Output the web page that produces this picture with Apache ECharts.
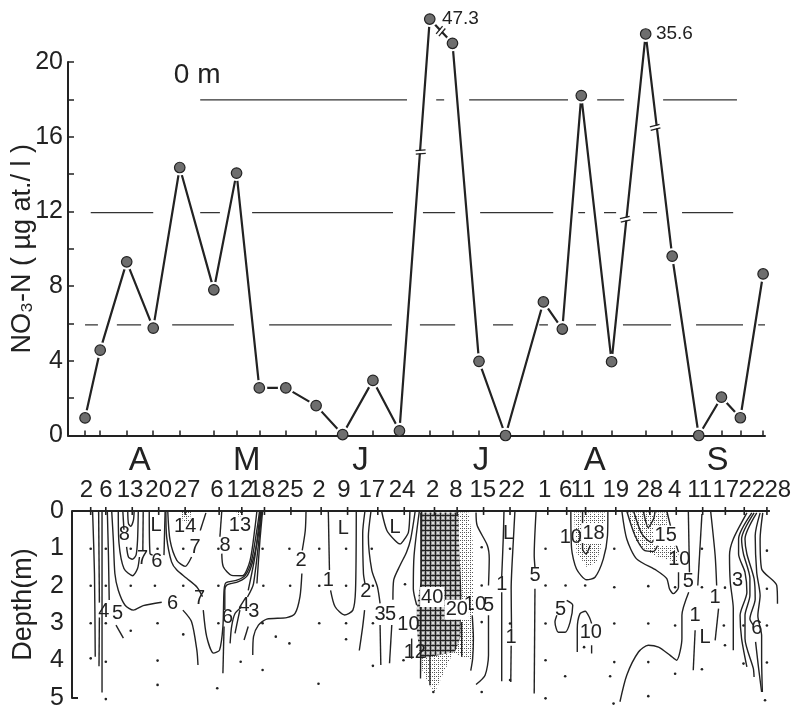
<!DOCTYPE html>
<html><head><meta charset="utf-8">
<style>html,body{margin:0;padding:0;background:#fff}#c{width:805px;height:707px}</style>
<script src="https://cdn.jsdelivr.net/npm/echarts@6/dist/echarts.min.js"></script>
</head><body><div id="c"></div>
<script>
// ---- Data (days are day-of-year, depth in m) ----
const sampleDays = [92,96,103,110,117,126,132,138,145,153,160,168,175,183,189,196,203,213,218,223,231,240,247,254,260,265,271];
const no3Plotted = [0.94,4.57,9.3,5.75,14.35,7.8,14.05,2.55,2.55,1.6,0.05,2.95,0.25,22.3,21.0,3.97,0,7.15,5.7,18.2,3.95,21.5,9.6,0,2.05,0.95,8.65];
const dateLabels = ['2','6','13','20','27','6','12','18','25','2','9','17','24','2','8','15','22','1','6','11','19','28','4','11','17','22','28'];
const dateLabelDays = [90.9,96,102.4,110,117.5,125.4,131.5,137.3,144.8,152.4,159,166.4,174.4,182.5,188.7,195.8,203.4,212.2,217.7,222.3,231,240,246.6,253.2,260.1,267,273.9];
const months = ['A','M','J','J','A','S'];
const monthDays = [105,133.3,163.4,195.3,225.4,257.9];
const peakNotes = [[186.2,22.3,'47.3',19],[242.7,21.5,'35.6',21]];
const depthTag = [[121.6,19.3,'0 m']];
const breakMarks = [[180.6,15.18,-4],[185.9,21.65,-50],[234.6,11.58,-14],[242.5,16.5,-14]];
const refRuns18 = [[122.4,177],[184.7,186.8],[193.4,219.5],[227.2,234.3],[244.6,264.1]];
const refRuns12 = [[93.5,110],[122.4,127.6],[136.1,173.3],[181.2,189.7],[196.3,215.6],[222.2,224],[229,232.2],[239.3,243],[249.6,263.1]];
const refRuns6 = [[92,95.4],[100.4,106.8],[115,131.3],[140.6,173],[180.4,189.7],[199.7,205],[211.9,214.2],[221.6,226.9],[234,246.7],[253.3,265.7],[269.7,271.5]];
const contours = [
 [[92.5,0],[93,1.67],[93.2,3.9]],
 [[94.1,0],[94.3,2.45]],[[94.3,2.85],[94.2,4.15]],
 [[95,0],[95,4.85]],
 [[96.4,0],[96.7,1.2],[96.9,2.38]],[[98.7,3.05],[100.65,3.4]],
 [[97.56,0],[98,0.78],[98.4,1.67],[99.3,2.12],[101.1,2.52],[103.3,2.65],[105.9,2.53],[110.8,2.44]],
 [[116.4,2.65],[118.7,2.96],[120.1,3.72],[120.4,4.12]],
 [[99.3,0],[99.5,0.87],[100.8,1.54],[103.1,1.73],[104.4,1.54],[104.9,1.23]],
 [[105.9,0],[105.8,1.05]],
 [[100.5,0],[100.8,0.5]],[[101.5,0.96],[102,1.23],[103,1.29],[104,1.18],[104.4,0.78],[104.6,0]],
 [[101.8,0],[102,0.34],[102.6,0.41],[103.3,0.25],[103.5,0]],
 [[107.5,0],[107.7,1.14],[108.4,1.18]],
 [[111.7,0],[111.4,1.18]],
 [[112.4,0],[113,0.78],[114.8,1.32],[117,1.48],[118.7,1.23]],[[121,0.52],[122.5,0.05]],
 [[111.9,0],[112.1,0.69],[113.4,1.36],[114.8,1.58],[117.4,1.8],[120.1,2.03],[121.6,2.29]],
 [[121.8,2.65],[122.7,3.36],[124.5,3.8],[126.1,3.72],[127,3.09],[127.3,2.12],[127.8,1.92],[130.7,1.85],[132.9,1.72],[134.6,1.32],[136.1,0.43],[136.7,0]],
 [[126.7,0],[126.2,0.69]],[[126.7,1.14],[127.1,1.49],[129.3,1.72],[132.2,1.73],[134.2,1.32],[135.5,0.43],[136,0]],
 [[127,4.34],[127.3,3.09]],[[127.5,2.65],[127.5,2.12],[128,1.98],[131.1,1.89],[133.5,1.72],[135.2,1.23],[136.7,0.43],[137,0]],
 [[128.9,3.54],[129.3,3.09],[130.2,2.74],[132,2.56]],[[133.5,2.3],[135.1,1.94],[137.3,0]],
 [[130.2,3.27],[131.1,2.83],[131.5,2.65]],[[133.7,2.12],[135.5,1.2],[136.9,0]],
 [[132.6,3.45],[133.7,3.09]],[[136,1.94],[136.8,0.78],[137.5,0]],
 [[134.9,3.85],[135.1,3.36],[136.4,3.05],[138.6,2.89],[143.9,2.85],[146.1,2.74],[147.4,2.29],[147.9,1.67]],[[148,1.05],[148.8,0.52],[149,0]],
 [[154.9,0],[155.2,1.58]],[[155.5,2.12],[156.7,2.56],[159.2,2.78],[161.4,2.65],[162.1,2.12],[162.3,0]],
 [[164.6,0],[164,0.6],[164.2,1.67],[164.6,1.94]],[[163.1,3.73],[164,3.09],[164.5,2.65]],
 [[166.2,0],[165.5,0.69],[166.4,1.58],[167.9,2.03],[168.6,2.47]],[[168.6,3.05],[168.8,4.12]],
 [[169,0],[170.4,0.52],[172.5,0.78],[173.9,0.88],[174.8,0.79],[176.1,0.57],[176.5,0]],
 [[177.9,0],[176.7,0.75],[175.6,1.1],[173.9,1.45],[172.2,1.85],[172,2.37]],[[171.7,3.05],[171.1,4.07]],
 [[179,0],[177.6,1.19],[177.4,2.08],[178.3,2.52]],[[176.96,3.41],[176.96,3.95]],
 [[179.6,0],[179.3,4.48]],[[181.8,3.86],[181.8,4.66]],[[190.2,2.97],[190.2,3.9]],
 [[194,0.04],[194.3,0.39],[197,0.92],[197.5,1.28],[197.3,1.99]],[[197.3,2.79],[197.3,3.86],[196.4,4.39],[194,4.64]],
 [[193,2.79],[193.3,3.41],[193.1,3.95],[192.6,4.27]],
 [[201.4,0],[201.2,0.75],[200.8,1.75]],[[200.8,2.17],[200.8,4.55]],
 [[204.3,0],[203.9,0.75],[203.3,2.08],[203.4,3.15]],[[203.3,3.6],[203.2,4.57]],
 [[209.9,0],[209.4,1.19],[209.6,1.5]],[[209.6,2.08],[209.4,4.88]],
 [[219.1,0],[219.3,1.01],[220.6,1.55],[223.3,1.84],[225.5,1.77],[227.7,1.28],[228.8,0.66],[228.9,0]],
 [[222.2,0],[222.2,1.01],[223.1,1.15],[224.2,0.92]],
 [[218,2.39],[219.6,2.52],[218.9,2.97],[217.6,3.24],[215.8,3.24],[214.9,2.97],[215.4,2.79]],
 [[220.8,3.77],[220.8,3.15],[221.5,2.75],[222.9,2.68],[224,2.84],[224.6,3.01]],[[224.6,3.59],[224.6,3.81]],
 [[232.6,0],[233.9,0.75],[236.5,1.28],[241.8,1.59],[244.5,1.81],[245.2,2.08],[246.2,2.21],[247.6,2.04],[247.6,1.64]],[[247.6,1.1],[246,0.6],[244.5,0]],
 [[233.9,0],[236.1,0.66],[238.7,1.06],[241,1.08],[242.3,0.84],[242.7,0.39]],
 [[235.7,0],[237.9,0.61],[240.5,0.84],[241.8,0.66]],
 [[238.3,0],[239.6,0.44],[241,0.21],[241.4,0]],
 [[250.2,0],[250.5,1.64]],[[250.3,2.17],[248.5,2.79],[248.5,3.41],[247.1,3.99],[245.4,3.86],[242.3,3.64],[239.6,3.59],[237,3.77],[233.9,4.39],[232.1,5.1]],
 [[253.8,0.08],[252.7,1.99]],[[252,3.19],[251.5,4.26]],
 [[256.1,0],[257.3,1.19],[257.7,1.99]],[[258.2,2.61],[257.3,3.46]],
 [[265.7,0.05],[262.1,0.75],[261.1,1.19],[261.3,1.9],[262.1,2.61],[262.1,3.72]],
 [[267,0.05],[263.5,0.75],[263.5,1.15],[265.2,1.64],[265.7,2.17],[263.9,2.79],[264.3,3.41],[265.7,4.17]],
 [[267.6,0.05],[264.3,0.75],[264.8,1.15],[266.5,1.8],[266.5,2.26],[265.2,2.79],[265.2,3.41],[267.4,4.21],[267.6,4.44]],
 [[268.3,0.05],[265.2,0.75],[265.7,1.15],[267.6,1.81],[267.9,2.35],[266.5,2.88],[267.4,3.05]],[[268,3.5],[268.7,4.12],[269.6,4.84]],
 [[269.2,0.05],[267.9,0.66],[268.3,1.64],[269.2,2.26],[268.6,2.8],[269.6,3.33],[269.6,3.95],[269.8,4.84]],
 [[269.9,0.05],[269.2,0.75],[269.6,1.55],[273.6,1.99],[273.8,2.48]]
];
const crossPatch = [[[179.2,0.04],[189.3,0.04],[189.6,1.1],[190.2,2.26],[189.8,3.41],[188.4,3.77],[179.2,3.95],[178.3,3.15],[178.3,2.61],[179.3,1.9]]];
const stipplePatches = [
 [[189,0.04],[192,0.04],[193.1,0.75],[193.3,2.52],[193.1,3.99],[188,3.8],[189,2]],
 [[179.2,3.86],[188.4,3.68],[183.1,4.84],[181.4,4.61],[179.6,4.21]],
 [[219.9,0.04],[220.6,1.1],[223.3,1.5],[225.9,1.37],[227.7,0.75],[228.4,0.04]],
 [[233.9,0.04],[236.5,0.84],[241,1.19],[247.1,1.37],[247.6,1.15],[244.5,0.57],[244.5,0.04]],
 [[116,0.02],[118.6,0.02],[118.2,0.3],[116.4,0.3]],
 [[130.6,0.02],[132.4,0.02],[132,0.14],[131,0.14]]
];
const contourLabels = [[95.5,2.69,'4'],[99.1,2.74,'5'],[100.9,0.62,'8'],[105.7,1.27,'7'],[109.5,1.36,'6'],[109.3,0.38,'L'],[117,0.41,'14'],[119.6,0.98,'7'],[113.7,2.47,'6'],[120.8,2.34,'7'],[127.6,0.93,'8'],[131.5,0.38,'13'],[128.2,2.85,'6'],[132.6,2.53,'4'],[135.2,2.69,'3'],[147.7,1.33,'2'],[154.9,1.85,'1'],[158.9,0.47,'L'],[164.8,2.16,'2'],[168.6,2.78,'3'],[171.4,2.78,'5'],[172.6,0.43,'L'],[176.1,3.04,'10'],[177.8,3.77,'12'],[193.7,2.5,'10'],[197.3,2.52,'5'],[202.6,0.61,'L'],[200.8,1.96,'1'],[203.3,3.37,'1'],[209.6,1.72,'5'],[219.1,0.7,'10'],[216.4,2.64,'5'],[224.4,3.24,'10'],[247.8,1.3,'10'],[250.2,1.88,'5'],[252,2.79,'1'],[254.6,3.37,'L'],[257.3,2.32,'1'],[263.2,1.86,'3'],[268.3,3.15,'6']];
const shadedLabels = [[182.4,2.3,'40'],[188.9,2.64,'20'],[225.1,0.59,'18'],[244.2,0.66,'15']];
const stationDots = [[92,1.01],[96,1.01],[102.6,1.01],[109.7,1.01],[116.5,1.01],[125.8,1.01],[131.7,1.01],[137.5,1.01],[144.6,1.01],[152.5,1.01],[159.6,1.01],[166.4,1.01],
 [92,2],[96,2],[102.6,2],[109,2],[116.5,2],[125.8,2],[137.7,2],[144.8,2],[152.5,2],[159.6,2],[166.7,2],
 [92,3],[96,3],[102.6,3.2],[109.7,3],[116.5,3.3],[125.8,3],[137.5,3],[141,3.36],[144.6,3.54],[152.5,3],[159.6,3],[159.6,3.43],[166.7,3],
 [92,3.94],[96,4.03],[109.7,4],[131.7,4.03],[137.5,4.25],[166.7,4.14],[109.7,4.65],[125.5,4.74],[152.3,4.62],[96,5.03],
 [195.5,0.97],[203,1.01],[212.4,1.01],[230.6,1.01],[253.8,1.01],[271,1.06],[175.2,1.96],[195.5,1.99],[212.4,1.99],[217.7,1.99],[222.9,1.99],[230.6,2.04],[239.6,2.01],[246.7,2.04],[253.8,2.04],[259.9,2.05],[271,2.08],
 [195.5,2.97],[203,3.01],[212.4,3.01],[230.6,3.01],[239.6,3.01],[246.7,3.06],[259.6,3.06],[264.8,3.06],[271,3.06],
 [174.8,3.99],[212.4,3.99],[230.6,4.04],[239.6,4.04],[222.6,3.64],[259.9,3.59],[264.8,4.08],[271,4.05],[217.6,4.42],[229.5,4.42],[246.7,4.35],[253.8,4.23],[203,4.52],[182.7,4.84],[195.5,4.84],[212.4,5.01],[239.6,4.95],[230.4,5.15],[270.5,5.06]];

// ---- Rendering ----
const ink = '#222';
const face = 'Liberation Sans';
const narrow = '"Liberation Sans Narrow","Liberation Sans",sans-serif';
function makePattern(draw, w, h){
  const cv = document.createElement('canvas'); cv.width = w; cv.height = h;
  draw(cv.getContext('2d'));
  return {image: cv, repeat: 'repeat'};
}
const stippleFill = makePattern(g=>{
  g.fillStyle='#fff';g.fillRect(0,0,4,4);g.fillStyle='#555';
  g.fillRect(0,0,1,1);g.fillRect(2,2,1,1);g.fillRect(2,0,1,1);
},4,4);
const crossFill = makePattern(g=>{
  g.fillStyle='#999';g.fillRect(0,0,5,5);g.fillStyle='#222';
  g.fillRect(0,0,5,1);g.fillRect(0,0,1,5);g.fillStyle='#ddd';g.fillRect(2,2,2,2);
},5,5);

function patchSeries(list, fill){
  return {type:'custom',xAxisIndex:1,yAxisIndex:1,z:1,silent:true,clip:false,
    data:list.map((p,i)=>[p[0][0],p[0][1],i]),
    renderItem:(params,api)=>({type:'polygon',
      shape:{points:list[api.value(2)].map(pt=>api.coord(pt))},
      style:{fill:fill,stroke:null}})};
}
function refSeries(level, runs){
  const data=[]; runs.forEach(r=>{data.push([r[0],level],[r[1],level],[null,null]);});
  return {type:'line',xAxisIndex:0,yAxisIndex:0,z:1,symbol:'none',silent:true,connectNulls:false,
    lineStyle:{color:'#333',width:1.2},data:data};
}
function labelSeries(list, size, axis, extra){
  return {type:'scatter',xAxisIndex:axis,yAxisIndex:axis,z:6,symbolSize:0,silent:true,clip:false,
    itemStyle:{opacity:1},data:list,
    label:Object.assign({show:true,position:'inside',color:ink,fontFamily:face,fontSize:size,
      formatter:p=>p.value[2]},extra||{})};
}
const points = sampleDays.map((d,i)=>[d,no3Plotted[i]]);
const series=[
  refSeries(17.97,refRuns18),refSeries(11.93,refRuns12),refSeries(5.92,refRuns6),
  {type:'line',xAxisIndex:0,yAxisIndex:0,z:2,clip:false,symbol:'none',silent:true,
   lineStyle:{color:ink,width:2.2},data:points},
  {type:'custom',xAxisIndex:0,yAxisIndex:0,z:4,clip:false,silent:true,data:breakMarks,
   renderItem:(params,api)=>{
     const c=api.coord([api.value(0),api.value(1)]),a=api.value(2)*Math.PI/180;
     const dx=Math.cos(a),dy=Math.sin(a),nx=-dy,ny=dx,L=5,o=1.8;
     const seg=(s,w,col)=>({type:'line',shape:{x1:c[0]-dx*L+nx*s,y1:c[1]-dy*L+ny*s,x2:c[0]+dx*L+nx*s,y2:c[1]+dy*L+ny*s},style:{stroke:col,lineWidth:w}});
     return {type:'group',children:[seg(0,2.6,'#fff'),seg(-o,1.3,ink),seg(o,1.3,ink)]};
   }},
  {type:'scatter',xAxisIndex:0,yAxisIndex:0,z:2,clip:false,symbolSize:16,silent:true,
   itemStyle:{color:'#fff',opacity:1},data:points},
  {type:'scatter',xAxisIndex:0,yAxisIndex:0,z:5,clip:false,symbolSize:10.5,silent:true,
   itemStyle:{color:'#6e6e6e',borderColor:'#222',borderWidth:1.2,opacity:1},data:points},
  labelSeries(depthTag,28,0),
  {type:'scatter',xAxisIndex:0,yAxisIndex:0,z:6,symbolSize:0,silent:true,clip:false,itemStyle:{opacity:1},data:peakNotes,
   label:{show:true,position:'right',distance:0,color:ink,fontFamily:face,formatter:p=>p.value[2],fontSize:19}},
  patchSeries(stipplePatches,stippleFill),
  patchSeries(crossPatch,crossFill)
].concat(contours.map(c=>({type:'line',xAxisIndex:1,yAxisIndex:1,z:3,clip:false,symbol:'none',silent:true,
    smooth:0.25,lineStyle:{color:ink,width:1.4},data:c})),[
  {type:'scatter',xAxisIndex:1,yAxisIndex:1,z:2,clip:false,symbolSize:2.6,silent:true,itemStyle:{color:ink,opacity:1},data:stationDots},
  {type:'line',xAxisIndex:1,yAxisIndex:1,z:3,clip:false,symbol:'none',silent:true,lineStyle:{color:ink,width:2},data:[[87.05,0],[271.8,0]]},
  {type:'scatter',xAxisIndex:1,yAxisIndex:1,z:3,clip:false,silent:true,symbol:'rect',symbolSize:[1.6,8],itemStyle:{color:ink,opacity:1},data:sampleDays.map(d=>[d,0])},
  labelSeries(contourLabels,20,1),
  labelSeries(shadedLabels,20,1,{backgroundColor:'#fff',padding:[0,1]}),
  labelSeries(monthDays.map((d,i)=>[d,-1.33,months[i]]),33,1)
]);
const chart=echarts.init(document.getElementById('c'),null,{renderer:'canvas'});
chart.setOption({
  animation:false,backgroundColor:'#fff',
  grid:[{left:68,top:62,width:697,height:373.5,outerBoundsMode:'none'},
        {left:72,top:511,width:713.8,height:187,outerBoundsMode:'none'}],
  xAxis:[
   {type:'value',gridIndex:0,min:87.5,max:271.5,z:3,splitLine:{show:false},
    axisLine:{show:true,onZero:false,lineStyle:{color:ink,width:2}},
    axisTick:{show:true,inside:true,length:5,customValues:sampleDays,lineStyle:{color:ink,width:1.5}},
    axisLabel:{show:false}},
   {type:'value',gridIndex:1,position:'top',min:87.05,max:276,z:3,splitLine:{show:false},
    axisLine:{show:false,onZero:false},
    axisTick:{show:false},
    // the axis drops the last custom value's label, so a blank end entry keeps '28'
    axisLabel:{show:true,customValues:dateLabelDays.concat([276]),margin:9,color:ink,fontFamily:narrow,fontSize:24,hideOverlap:false,
      showMinLabel:true,
      formatter:v=>{const i=dateLabelDays.indexOf(v);return i<0?'':dateLabels[i];}}}
  ],
  yAxis:[
   {type:'value',gridIndex:0,min:0,max:20,interval:2,splitLine:{show:false},
    name:'NO₃-N ( µg at./ l )',nameLocation:'middle',nameRotate:90,nameGap:32,nameMoveOverlap:false,
    nameTextStyle:{color:ink,fontFamily:face,fontSize:27},
    axisLine:{show:true,onZero:false,lineStyle:{color:ink,width:2}},
    axisTick:{show:true,inside:true,length:6,lineStyle:{color:ink,width:1.5}},
    axisLabel:{margin:5,color:ink,fontFamily:face,fontSize:25,formatter:v=>v%4===0?String(v):''}},
   {type:'value',gridIndex:1,inverse:true,min:0,max:5,interval:1,splitLine:{show:false},
    name:'Depth(m)',nameLocation:'middle',nameRotate:90,nameGap:35,nameMoveOverlap:false,
    nameTextStyle:{color:ink,fontFamily:face,fontSize:27},
    axisLine:{show:true,onZero:false,lineStyle:{color:ink,width:2}},
    axisTick:{show:true,inside:true,length:6,customValues:[5],lineStyle:{color:ink,width:2}},
    axisLabel:{margin:8,color:ink,fontFamily:face,fontSize:25}}
  ],
  series:series
});
</script></body></html>
